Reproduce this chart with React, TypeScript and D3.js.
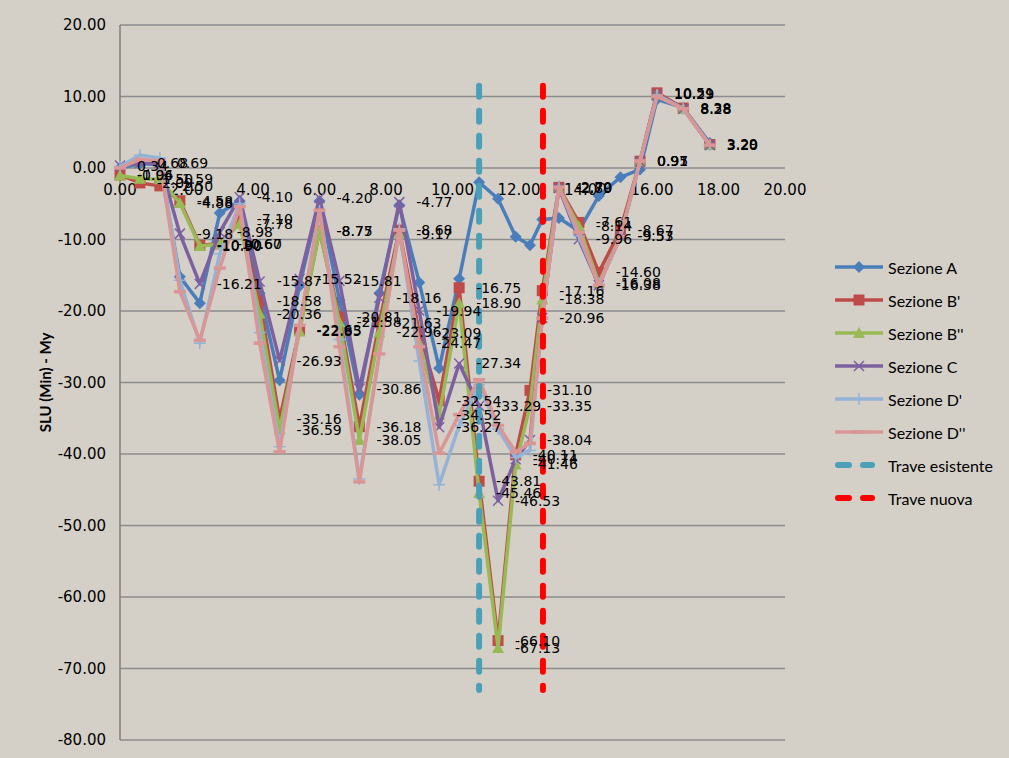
import React from "react";
import * as d3 from "d3";

// beam positions (m) along the span
const xs = [0, 0.6, 1.2, 1.8, 2.4, 3.0, 3.6, 4.2, 4.8, 5.4, 6.0, 6.6, 7.2, 7.8, 8.4, 9.0, 9.6, 10.2, 10.8,
  11.37, 11.9, 12.33, 12.7, 13.2, 13.8, 14.4, 15.05, 15.64, 16.15, 16.94, 17.74];

const sezA = [0.0, 0.6, 0.5, -15.2, -18.9, -6.3, -4.6, -17.5, -29.7, -16.5, -4.6, -18.5, -31.7, -17.5, -5.2, -16.0,
  -28.0, -15.5, -2.0, -4.3, -9.6, -10.8, -7.2, -7.0, -8.8, -3.9, -1.3, -0.2, 9.6, 8.4, 3.5];
const sezB1 = [-0.96, -2.09, -2.5, -4.58, -10.8, -10.6, -7.1, -18.58, -35.16, -22.63, -8.75, -20.81, -36.18, -21.63,
  -8.68, -23.09, -32.54, -16.75, -43.81, -66.1, -40.11, -31.1, -17.16, -2.7, -7.61, -14.6, -8.67, 0.95, 10.51, 8.38, 3.29];
const sezB2 = [-1.04, -1.5, -1.59, -4.88, -10.9, -10.67, -7.78, -20.36, -36.59, -22.85, -8.77, -21.58, -38.05, -22.96,
  -9.17, -24.47, -34.52, -18.9, -45.46, -67.13, -41.46, -33.35, -18.38, -2.79, -8.14, -16.08, -9.53, 0.97, 10.29, 8.28, 3.2];
const sezC = [0.34, 0.68, 0.69, -9.18, -16.21, -8.98, -4.1, -15.87, -26.93, -15.52, -4.2, -15.81, -30.86, -18.16,
  -4.77, -19.94, -36.27, -27.34, -33.29, -46.53, -40.74, -38.04, -20.96, -2.8, -9.96, -16.38, -9.57, 0.91, 10.29, 8.28, 3.2];
const sezD1 = [0.2, 1.8, 1.4, -15.7, -24.5, -12.0, -5.0, -23.0, -39.0, -22.0, -6.0, -24.0, -43.5, -26.0, -8.5, -27.0,
  -44.3, -36.0, -30.3, -36.5, -40.5, -39.5, -21.0, -2.6, -9.5, -16.3, -9.6, 0.9, 10.2, 8.3, 3.2];
const sezD2 = [0.0, 1.2, 1.0, -17.3, -24.1, -14.0, -5.4, -24.5, -39.7, -22.0, -5.9, -25.0, -43.9, -26.0, -8.7, -25.0,
  -39.9, -34.5, -29.6, -36.0, -39.7, -38.5, -21.0, -2.7, -9.0, -16.4, -9.6, 1.0, 10.0, 8.3, 3.2];

const traveEsistenteX = [10.8, 10.8];
const traveNuovaX = [12.72, 12.72];
const traveY = [11.5, -73];

const yTicks = [-80, -70, -60, -50, -40, -30, -20, -10, 0, 10, 20];
const xTicks = [0, 2, 4, 6, 8, 10, 12, 14, 16, 18, 20];

const series = [
  {name: "Sezione A", values: sezA, color: "#4A7EBB", marker: "diamond", labels: false},
  {name: "Sezione B'", values: sezB1, color: "#BE4B48", marker: "square", labels: true},
  {name: "Sezione B''", values: sezB2, color: "#98B954", marker: "triangle", labels: true},
  {name: "Sezione C", values: sezC, color: "#7D60A0", marker: "x", labels: true},
  {name: "Sezione D'", values: sezD1, color: "#95B3D7", marker: "plus", labels: false},
  {name: "Sezione D''", values: sezD2, color: "#D99694", marker: "dash", labels: false},
];

const traves = [
  {name: "Trave esistente", xv: traveEsistenteX, color: "#4BA0B8"},
  {name: "Trave nuova", xv: traveNuovaX, color: "#FF0000"},
];

const W = 1009;
const H = 758;
const x = d3.scaleLinear().domain([0, 20]).range([120, 785]);
const y = d3.scaleLinear().domain([-80, 20]).range([740, 25]);

const FONT = "DejaVu Sans";
const GRID = "#8C8C8C";

function Marker({type, cx, cy, color}: {type: string; cx: number; cy: number; color: string}) {
  if (type === "diamond")
    return <path d={`M${cx},${cy - 6}L${cx + 6},${cy}L${cx},${cy + 6}L${cx - 6},${cy}Z`} fill={color} />;
  if (type === "square")
    return <rect x={cx - 5.5} y={cy - 5.5} width={11} height={11} fill={color} />;
  if (type === "triangle")
    return <path d={`M${cx},${cy - 6}L${cx + 6},${cy + 5}L${cx - 6},${cy + 5}Z`} fill={color} />;
  if (type === "x")
    return (
      <path d={`M${cx - 5},${cy - 5}L${cx + 5},${cy + 5}M${cx - 5},${cy + 5}L${cx + 5},${cy - 5}`}
        stroke={color} strokeWidth={1.5} fill="none" />
    );
  if (type === "plus")
    return (
      <path d={`M${cx - 6},${cy}L${cx + 6},${cy}M${cx},${cy - 6}L${cx},${cy + 6}`}
        stroke={color} strokeWidth={1.5} fill="none" />
    );
  return <path d={`M${cx - 6},${cy}L${cx + 6},${cy}`} stroke={color} strokeWidth={3.5} />;
}

export default function App() {
  const line = d3.line<[number, number]>().x((d) => x(d[0])).y((d) => y(d[1]));

  return (
    <svg width={W} height={H} style={{position: "absolute", left: 0, top: 0, background: "#D4D0C8"}}
      fontFamily={FONT}>
      <rect width={W} height={H} fill="#D4D0C8" />

      {/* gridlines + y ticks */}
      {yTicks.map((t) => (
        <g key={t}>
          <line x1={x(0)} x2={x(20)} y1={y(t)} y2={y(t)} stroke={GRID} strokeWidth={1.5} />
          <text x={106} y={y(t)} textAnchor="end" dominantBaseline="central" fontSize={15} fill="#000">
            {t.toFixed(2)}
          </text>
        </g>
      ))}
      <line x1={x(0)} x2={x(0)} y1={y(20)} y2={y(-80)} stroke="#7F7F7F" strokeWidth={1.5} />

      {xTicks.map((t) => (
        <text key={t} x={x(t)} y={y(0) + 22} textAnchor="middle" dominantBaseline="central" fontSize={15} fill="#000">
          {t.toFixed(2)}
        </text>
      ))}

      <text transform={`translate(45,${(y(20) + y(-80)) / 2}) rotate(-90)`} textAnchor="middle"
        dominantBaseline="central" fontFamily="Lato" fontWeight="bold" fontSize={15} fill="#000">
        SLU (Min) - My
      </text>

      {/* series */}
      {series.map((s) => {
        const pts = xs.map((xv, i) => [xv, s.values[i]] as [number, number]);
        return (
          <g key={s.name}>
            <path d={line(pts) || ""} fill="none" stroke={s.color} strokeWidth={3.5} strokeLinejoin="round" />
            {pts.map((p, i) => (
              <Marker key={i} type={s.marker} cx={x(p[0])} cy={y(p[1])} color={s.color} />
            ))}
          </g>
        );
      })}

      {traves.map((t) => (
        <path key={t.name}
          d={line(t.xv.map((xv, i) => [xv, traveY[i]] as [number, number])) || ""}
          stroke={t.color} strokeWidth={6} strokeDasharray="11 14" strokeLinecap="round" fill="none" />
      ))}

      {/* data labels */}
      {series.filter((s) => s.labels).map((s) => (
        <g key={s.name + "-lab"}>
          {xs.map((xv, i) => (
            <text key={i} x={x(xv) + 17} y={y(s.values[i])} dominantBaseline="central" fontSize={14} fill="#000">
              {s.values[i].toFixed(2)}
            </text>
          ))}
        </g>
      ))}

      {/* legend */}
      <g fontFamily="Lato" fontSize={16}>
        {series.map((s, i) => {
          const ly = 267 + i * 33;
          return (
            <g key={s.name}>
              <line x1={835} x2={883} y1={ly} y2={ly} stroke={s.color} strokeWidth={3.5} />
              <Marker type={s.marker} cx={859} cy={ly} color={s.color} />
              <text x={888} y={ly} dominantBaseline="central" fill="#000">{s.name}</text>
            </g>
          );
        })}
        {traves.map((t, i) => {
          const ly = 267 + (series.length + i) * 33;
          return (
            <g key={t.name}>
              <line x1={838} x2={872} y1={ly} y2={ly} stroke={t.color} strokeWidth={6}
                strokeDasharray="11 14" strokeLinecap="round" />
              <text x={888} y={ly} dominantBaseline="central" fill="#000">{t.name}</text>
            </g>
          );
        })}
      </g>
    </svg>
  );
}
